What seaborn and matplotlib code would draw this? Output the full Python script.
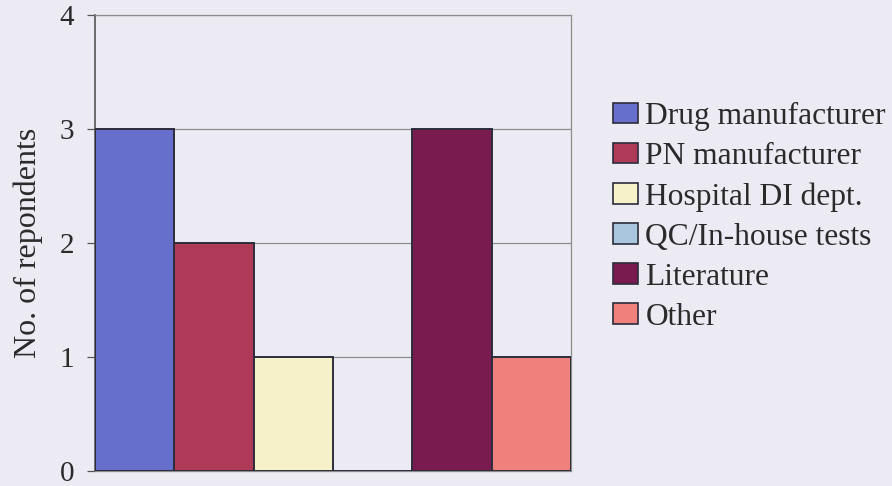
import matplotlib
matplotlib.use("Agg")
import matplotlib.pyplot as plt
import seaborn as sns
import pandas as pd
from matplotlib.patches import Patch

categories = ["Drug manufacturer", "PN manufacturer", "Hospital DI dept.",
              "QC/In-house tests", "Literature", "Other"]
values = [3, 2, 1, 0, 3, 1]
colors = ["#6670CC", "#AE3A58", "#F6F1C8", "#A9C6DE", "#7A1B4F", "#F0807C"]
yticks = [0, 1, 2, 3, 4]
ylabel = "No. of repondents"

bg = "#ECEBF3"
sns.set_theme(style="white")
plt.rcParams["font.family"] = ["Liberation Serif", "DejaVu Serif"]

fig = plt.figure(figsize=(8.92, 4.86), dpi=100, facecolor=bg)
ax = fig.add_axes([95/892, 1-471/486, (571-95)/892, (471-15)/486])
ax.set_facecolor(bg)

df = pd.DataFrame({"source": categories, "n": values})
sns.barplot(data=df, x="source", y="n", hue="source", palette=colors,
            hue_order=categories, order=categories, width=1, dodge=False,
            saturation=1, edgecolor="#2C2C3C", linewidth=1.4, ax=ax,
            legend=False, zorder=3)

ax.set_xlim(-0.5, len(categories) - 0.5)
ax.set_ylim(0, 4)
ax.set_yticks(yticks)
ax.set_yticklabels([str(t) for t in yticks], fontsize=21, color="#2a2a2a")
ax.set_xticks([])
ax.set_xlabel("")
ax.set_ylabel(ylabel, fontsize=23, color="#2a2a2a", labelpad=12)
ax.yaxis.grid(True, color="#8c8c8c", linewidth=0.9, zorder=0)
ax.set_axisbelow(True)
ax.tick_params(axis="y", length=6, width=0.9, color="#555555", pad=9, left=True)
for side in ["top", "right", "bottom"]:
    ax.spines[side].set_visible(True)
    ax.spines[side].set_color("#8c8c8c")
    ax.spines[side].set_linewidth(0.9)
ax.spines["left"].set_color("#555555")
ax.spines["left"].set_linewidth(1.2)

handles = [Patch(facecolor=c, edgecolor="#2C2C3C", linewidth=1.2) for c in colors]
leg = ax.legend(handles, categories, loc="upper left",
                bbox_to_anchor=(613/892, 1-102/486), bbox_transform=fig.transFigure,
                frameon=False, fontsize=22.7, handlelength=0.78, handleheight=0.62,
                handletextpad=0.25, labelspacing=0.35, borderpad=0, borderaxespad=0)
for t in leg.get_texts():
    t.set_color("#2a2a2a")

fig.savefig("out.png", dpi=100, facecolor=bg)
